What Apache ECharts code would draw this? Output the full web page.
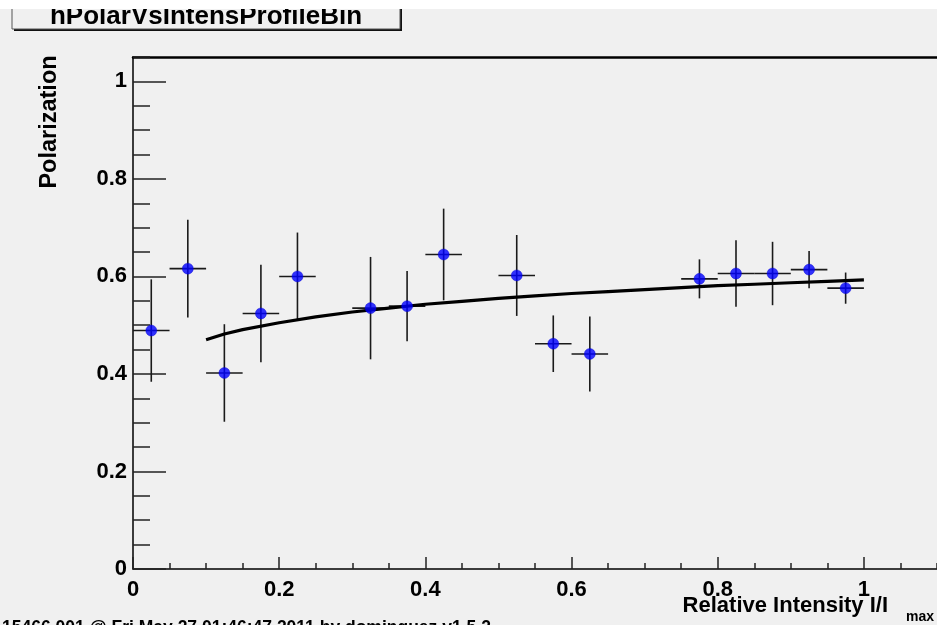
<!DOCTYPE html>
<html><head><meta charset="utf-8">
<script src="https://cdn.jsdelivr.net/npm/echarts@6/dist/echarts.min.js"></script>
<style>html,body{margin:0;padding:0;background:#f0f0f0}#c{width:937px;height:625px}</style>
</head><body><div id="c"></div>
<script>
// ---- data ----
const binCenters = [0.025, 0.075, 0.125, 0.175, 0.225, 0.325, 0.375, 0.425, 0.525, 0.575, 0.625, 0.775, 0.825, 0.875, 0.925, 0.975];
const polarization = [0.489, 0.616, 0.402, 0.524, 0.600, 0.535, 0.539, 0.645, 0.602, 0.462, 0.441, 0.595, 0.606, 0.606, 0.614, 0.576];
const polarizationErr = [0.105, 0.100, 0.100, 0.100, 0.090, 0.105, 0.072, 0.094, 0.083, 0.058, 0.077, 0.040, 0.068, 0.065, 0.038, 0.032];
const binHalfWidth = 0.025;
const fitX = [0.10, 0.125, 0.15, 0.20, 0.25, 0.30, 0.35, 0.40, 0.45, 0.50, 0.55, 0.60, 0.65, 0.70, 0.75, 0.80, 0.85, 0.90, 0.95, 1.00];
const fitY = [0.470, 0.482, 0.491, 0.505, 0.517, 0.527, 0.535, 0.543, 0.549, 0.555, 0.560, 0.565, 0.569, 0.573, 0.577, 0.581, 0.584, 0.587, 0.590, 0.593];
const xTickValues = [0, 0.2, 0.4, 0.6, 0.8, 1];
const yTickValues = [0, 0.2, 0.4, 0.6, 0.8, 1];
const histTitle = 'hPolarVsIntensProfileBin';
const xTitle = 'Relative Intensity I/I';
const xTitleSub = 'max';
const yTitle = 'Polarization';
const footer = '15466.001 @ Fri May 27 01:46:47 2011 by dominguez v1.5.2';

const FONT = '"Liberation Sans", Arial, Helvetica, sans-serif';
const chart = echarts.init(document.getElementById('c'), null, {renderer: 'canvas'});

const tickStyle = {color: '#222', width: 1.5};
const option = {
  backgroundColor: '#f0f0f0',
  animation: false,
  grid: {left: 133, top: 57, right: 0, bottom: 56, containLabel: false, outerBoundsMode: 'none'},
  xAxis: [
    {type: 'value', position: 'bottom', min: 0, max: 1.1,
     axisLine: {show: true, onZero: false, lineStyle: {color: '#000', width: 1.5}},
     axisTick: {show: true, inside: true, length: 12, customValues: xTickValues, lineStyle: tickStyle},
     axisLabel: {show: true, customValues: xTickValues, margin: 10, color: '#000', fontSize: 22, fontWeight: 'bold', fontFamily: FONT},
     splitLine: {show: false}},
    {type: 'value', position: 'bottom', min: 0, max: 1.1, interval: 0.05,
     axisLine: {show: false},
     axisTick: {show: true, inside: true, length: 6, lineStyle: tickStyle},
     axisLabel: {show: false}, splitLine: {show: false}},
    {type: 'value', position: 'top', min: 0, max: 1.1,
     axisLine: {show: true, onZero: false, lineStyle: {color: '#000', width: 2.5}},
     axisTick: {show: false}, axisLabel: {show: false}, splitLine: {show: false}}
  ],
  yAxis: [
    {type: 'value', position: 'left', min: 0, max: 1.05,
     axisLine: {show: true, onZero: false, lineStyle: {color: '#000', width: 1.5}},
     axisTick: {show: true, inside: true, length: 33, customValues: yTickValues, lineStyle: tickStyle},
     axisLabel: {show: true, customValues: yTickValues, margin: 6, color: '#000', fontSize: 22, fontWeight: 'bold', fontFamily: FONT},
     splitLine: {show: false}},
    {type: 'value', position: 'left', min: 0, max: 1.05, interval: 0.05,
     axisLine: {show: false},
     axisTick: {show: true, inside: true, length: 17, lineStyle: tickStyle},
     axisLabel: {show: false}, splitLine: {show: false}}
  ],
  series: [
    {type: 'custom', xAxisIndex: 0, yAxisIndex: 0, z: 3,
     data: binCenters.map((x, i) => [x, polarization[i], polarizationErr[i]]),
     encode: {x: 0, y: 1},
     renderItem: function (params, api) {
       const x = api.value(0), y = api.value(1), e = api.value(2);
       const lo = api.coord([x, y - e]), hi = api.coord([x, y + e]);
       const l = api.coord([x - binHalfWidth, y]), r = api.coord([x + binHalfWidth, y]);
       const st = {stroke: '#1a1a1a', lineWidth: 1.6};
       return {type: 'group', children: [
         {type: 'line', shape: {x1: lo[0], y1: lo[1], x2: hi[0], y2: hi[1]}, style: st},
         {type: 'line', shape: {x1: l[0], y1: l[1], x2: r[0], y2: r[1]}, style: st}
       ]};
     }},
    {type: 'line', xAxisIndex: 0, yAxisIndex: 0, z: 4,
     data: fitX.map((x, i) => [x, fitY[i]]),
     showSymbol: false, symbol: 'none', smooth: false,
     lineStyle: {color: '#000', width: 3.2}},
    {type: 'scatter', xAxisIndex: 0, yAxisIndex: 0, z: 5,
     data: binCenters.map((x, i) => [x, polarization[i]]),
     symbol: 'circle', symbolSize: 11,
     itemStyle: {color: '#0000ff', borderColor: '#0000cc', borderWidth: 0.5}}
  ],
  graphic: [
    {type: 'rect', z: 10, shape: {x: 14, y: -20, width: 388, height: 51}, style: {fill: '#111'}},
    {type: 'rect', z: 11, shape: {x: 12, y: -20, width: 388, height: 49}, style: {fill: '#f0f0f0', stroke: '#555', lineWidth: 1}},
    {type: 'text', z: 12, x: 206, y: 17, style: {text: histTitle, align: 'center', verticalAlign: 'middle', fill: '#000', font: 'bold 26px ' + FONT}},
    {type: 'rect', z: 13, shape: {x: 0, y: 0, width: 937, height: 9}, style: {fill: '#ffffff'}},
    {type: 'text', z: 12, x: 50, y: 122, rotation: Math.PI / 2, style: {text: yTitle, align: 'center', verticalAlign: 'middle', fill: '#000', font: 'bold 23.5px ' + FONT}},
    {type: 'text', z: 12, x: 888, y: 606, style: {text: xTitle, align: 'right', verticalAlign: 'middle', fill: '#000', font: 'bold 22px ' + FONT}},
    {type: 'text', z: 12, x: 906, y: 617, style: {text: xTitleSub, align: 'left', verticalAlign: 'middle', fill: '#000', font: 'bold 14px ' + FONT}},
    {type: 'text', z: 12, x: 2, y: 628, style: {text: footer, align: 'left', verticalAlign: 'middle', fill: '#000', font: 'bold 17.5px ' + FONT}}
  ]
};
chart.setOption(option);
</script>
</body></html>
